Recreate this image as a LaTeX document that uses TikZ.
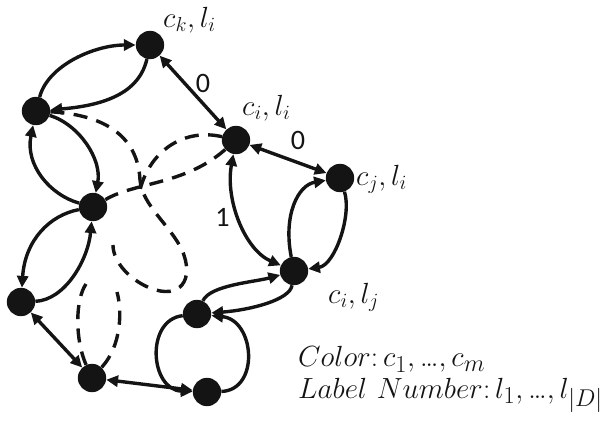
\documentclass[tikz,border=0pt]{standalone}
\usepackage{fontspec}
\newfontfamily\calib{Carlito}
\usetikzlibrary{arrows.meta}
\definecolor{ink}{HTML}{141414}
\newcommand{\mydots}{\mbox{\fontsize{27.5}{32}\selectfont …}}
\begin{document}
\begin{tikzpicture}[x=0.03cm,y=-0.03cm,
  dot/.style={circle,fill=ink,draw=none,minimum size=0.85cm,inner sep=0pt},
  arr/.style={draw=ink,line width=2.9pt,-{Triangle[length=10pt,width=9.5pt]}},
  arrb/.style={draw=ink,line width=2.9pt,{Triangle[length=10pt,width=9.5pt]}-{Triangle[length=10pt,width=9.5pt]}},
  dsh/.style={draw=ink,line width=2.9pt,dash pattern=on 12pt off 8pt},
  lab/.style={font=\fontsize{26}{31}\selectfont,inner sep=0pt,anchor=base west,text=ink},
  leg/.style={font=\fontsize{27.5}{26.5}\selectfont,inner sep=0pt,anchor=base west,align=left,text=ink},
  num/.style={font=\calib\fontsize{24}{28}\selectfont,inner sep=0pt,text=ink}]
\useasboundingbox (0,0) rectangle (615,421);
% nodes
\node[dot] (K) at (150,45) {};
\node[dot] (A) at (36,111) {};
\node[dot] (I) at (236,140) {};
\node[dot] (J) at (340,178) {};
\node[dot] (B) at (93,207) {};
\node[dot] (L) at (294,271) {};
\node[dot] (C) at (21,302) {};
\node[dot] (D) at (197,314) {};
\node[dot] (E) at (92,378) {};
\node[dot] (F) at (207,392) {};
% labels
\node[lab] (tK) at (163,27) {$c_k, l_i$};
\node[lab] (tI) at (242,115) {$c_i, l_i$};
\node[lab] (tJ) at (356,185) {$c_j, l_i$};
\node[lab] (tL) at (328,303) {$c_i, l_j$};
\node[leg] (legend) at (298,398) {$Color\colon c_1, \mydots, c_m$\\$Label\ Number\colon l_1, \mydots, l_{|D|}$};
% dashed curves
\coordinate (dA) at (113,245);
\coordinate (dI) at (140,190);
\coordinate (dE1) at (86,284);
\coordinate (dE2) at (117,292);
\draw[dsh] (A) .. controls (110,115) and (138,140) .. (140,180)
  .. controls (142,205) and (170,225) .. (182,250)
  .. controls (195,280) and (180,300) .. (150,288)
  .. controls (130,280) and (113,262) .. (dA);
\draw[dsh] (I) .. controls (185,128) and (150,150) .. (dI);
\draw[dsh] (B) .. controls (135,182) and (185,185) .. (I);
\draw[dsh] (E) .. controls (75,340) and (75,300) .. (dE1);
\draw[dsh] (E) .. controls (122,345) and (122,310) .. (dE2);
% solid edges
\draw[arr] (A) .. controls (48,65) and (95,45) .. (K);
\draw[arr] (K) .. controls (140,90) and (110,105) .. (A);
\draw[arrb] (K) -- (I) node[num,pos=0.5,xshift=0.3cm,yshift=0.27cm] (n0a) {0};
\draw[arrb] (I) -- (J) node[num,pos=0.5,xshift=0.3cm,yshift=0.57cm] (n0b) {0};
\draw[arrb] (I) .. controls (225,200) and (245,250) .. (L) node[num,pos=0.5,xshift=-0.54cm,yshift=0.1cm] (n1) {1};
\draw[arr] (L) .. controls (283,215) and (298,185) .. (J);
\draw[arr] (J) .. controls (352,215) and (335,265) .. (L);
\draw[arr] (A) .. controls (80,125) and (102,160) .. (B);
\draw[arr] (B) .. controls (50,195) and (25,165) .. (A);
\draw[arr] (B) .. controls (50,215) and (25,240) .. (C);
\draw[arr] (C) .. controls (65,300) and (88,260) .. (B);
\draw[arrb] (C) -- (E);
\draw[arrb] (E) -- (F);
\draw[arr] (D) .. controls (210,285) and (255,282) .. (L);
\draw[arr] (L) .. controls (290,300) and (250,310) .. (D);
\draw[arr] (D) .. controls (145,320) and (150,390) .. (F);
\draw[arr] (F) .. controls (260,390) and (255,320) .. (D);
\end{tikzpicture}
\end{document}
